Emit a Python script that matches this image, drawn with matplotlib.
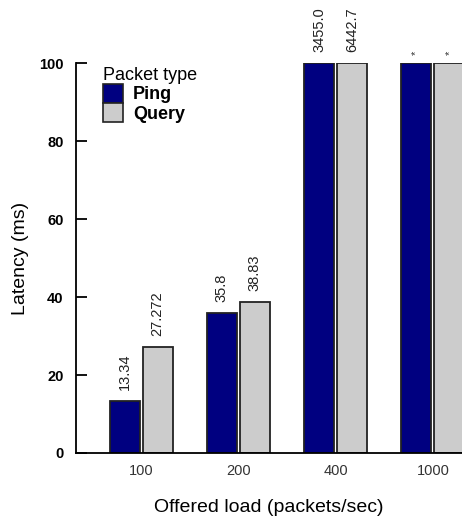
import numpy as np
import matplotlib
matplotlib.use("Agg")
import matplotlib.pyplot as plt
from matplotlib.patches import Patch

plt.rcParams['font.family'] = ['Liberation Sans', 'DejaVu Sans']

loads = ["100", "200", "400", "1000"]
ping = [13.34, 35.8, 3455.0, np.nan]   # nan = no value (shown as *)
query = [27.272, 38.83, 6442.7, np.nan]
series_names = ["Ping", "Query"]
colors = ["#000080", "#cccccc"]

fig = plt.figure(figsize=(4.62, 5.18), dpi=100)
ax = fig.add_axes([0.1645, 0.1255, 0.8355, 0.7525])

x = np.arange(len(loads))
w = 0.31
for i, (vals, col) in enumerate(zip([ping, query], colors)):
    off = (i - 0.5) * (w + 0.03)
    heights = [100 if np.isnan(v) else min(v, 100) for v in vals]
    ax.bar(x + off, heights, w, color=col, edgecolor="#222222", linewidth=1.3,
           zorder=2)
    for xi, h, v in zip(x + off, heights, vals):
        if np.isnan(v):
            ax.annotate("*", (xi, h), xytext=(0, 6), textcoords="offset points",
                        rotation=90, ha="center", va="bottom", fontsize=8,
                        color="#333333", annotation_clip=False)
        else:
            ax.annotate(str(v), (xi, h), xytext=(0, 8), textcoords="offset points",
                        rotation=90, ha="center", va="bottom", fontsize=10.5,
                        color="#222222", annotation_clip=False)

ax.set_xlim(-0.67, 3.30)
ax.set_ylim(0, 100)
ax.set_yticks([0, 20, 40, 60, 80, 100])
ax.set_xticks(x)
ax.set_xticklabels(loads, fontsize=10.5, color="#333333")
ax.tick_params(axis="x", length=0, pad=8)
ax.tick_params(axis="y", direction="in", length=8, width=1.3, pad=9, labelsize=10.5)
for lab in ax.get_yticklabels():
    lab.set_fontweight("bold")
ax.spines["top"].set_visible(False)
ax.spines["right"].set_visible(False)
ax.spines["left"].set_linewidth(1.3)
ax.spines["bottom"].set_linewidth(1.3)

ax.set_xlabel("Offered load (packets/sec)", fontsize=14, labelpad=15)
ax.set_ylabel("Latency (ms)", fontsize=14, labelpad=7)

handles = [Patch(facecolor=c, edgecolor="#222222", linewidth=1.2) for c in colors]
leg = ax.legend(handles, series_names, title="Packet type", loc="upper left",
                bbox_to_anchor=(0.07, 0.99), frameon=False, labelspacing=0.0,
                handlelength=1.1, handleheight=1.2, handletextpad=0.55,
                borderaxespad=0.0, borderpad=0.0,
                prop={"size": 13, "weight": "bold"}, title_fontsize=13)
leg._legend_box.align = "left"

fig.savefig("out.png", dpi=100)
